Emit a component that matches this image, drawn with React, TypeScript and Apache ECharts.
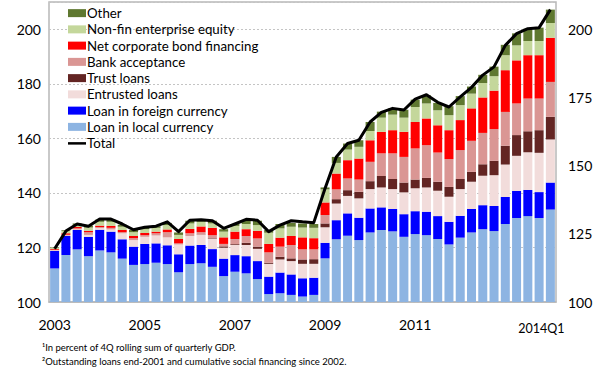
import React, { useEffect, useRef } from "react";
import * as echarts from "echarts";

// Quarterly categories, 2003Q1 – 2014Q1
const quarters = [
  "2003Q1", "2003Q2", "2003Q3", "2003Q4", "2004Q1", "2004Q2", "2004Q3", "2004Q4",
  "2005Q1", "2005Q2", "2005Q3", "2005Q4", "2006Q1", "2006Q2", "2006Q3", "2006Q4",
  "2007Q1", "2007Q2", "2007Q3", "2007Q4", "2008Q1", "2008Q2", "2008Q3", "2008Q4",
  "2009Q1", "2009Q2", "2009Q3", "2009Q4", "2010Q1", "2010Q2", "2010Q3", "2010Q4",
  "2011Q1", "2011Q2", "2011Q3", "2011Q4", "2012Q1", "2012Q2", "2012Q3", "2012Q4",
  "2013Q1", "2013Q2", "2013Q3", "2013Q4", "2014Q1",
];

// Category axis labels that are shown
const xTickLabels: Record<string, string> = {
  "2003Q1": "2003",
  "2005Q1": "2005",
  "2007Q1": "2007",
  "2009Q1": "2009",
  "2011Q1": "2011",
  "2014Q1": "2014Q1",
};

// Stacked components (percent of GDP)
const loanLocal = [112.3, 117.2, 119.3, 116.8, 118.9, 118.2, 115.9, 113.6, 113.9, 114.4, 113.9, 110.9, 113.9, 114.2, 112.9, 109.5, 111.1, 110.5, 108.4, 102.9, 103.2, 102.6, 102.0, 102.6, 116.0, 123.0, 124.3, 122.7, 125.5, 126.4, 125.9, 123.9, 124.9, 124.5, 123.1, 121.1, 123.6, 125.5, 126.7, 126.0, 128.6, 130.8, 131.5, 130.8, 133.9];
const loanForeign = [6.4, 7.0, 7.1, 7.1, 7.6, 7.6, 7.1, 6.7, 7.4, 7.1, 6.9, 6.6, 6.8, 6.7, 6.5, 6.4, 6.1, 6.3, 6.6, 6.4, 7.6, 7.5, 6.7, 6.3, 5.7, 7.0, 8.2, 8.2, 8.8, 8.3, 8.2, 8.3, 8.4, 8.6, 8.4, 8.3, 8.0, 8.6, 8.8, 9.2, 9.9, 9.9, 9.6, 9.5, 9.9];
const entrustedLoans = [0.2, 0.2, 0.2, 0.7, 0.6, 0.8, 2.2, 2.4, 2.6, 2.9, 2.9, 3.6, 3.5, 3.7, 3.8, 4.0, 3.7, 4.1, 4.5, 4.7, 4.8, 4.9, 5.3, 5.1, 5.7, 6.1, 6.4, 7.1, 7.1, 7.3, 7.3, 8.0, 8.4, 8.9, 9.3, 9.2, 9.8, 10.0, 10.8, 11.3, 11.9, 12.9, 13.8, 14.4, 15.8];
const trustLoans = [0, 0, 0, 0, 0, 0, 0, 0, 0, 0, 0, 0, 0, 0.1, 0.2, 0.5, 0.3, 0.8, 0.8, 0.4, 1.0, 1.0, 1.6, 1.7, 1.4, 1.6, 2.1, 2.4, 2.9, 4.2, 3.7, 3.6, 3.2, 3.5, 3.3, 3.6, 3.7, 3.6, 4.2, 5.3, 6.9, 7.6, 7.7, 8.3, 8.3];
const bankAcceptance = [0.2, 0.3, 0.4, 1.0, 0.4, 0.6, 0.4, 0.7, 0.6, 0.8, 1.9, 0.4, 1.0, 0.9, 1.1, 0.9, 1.9, 2.5, 3.0, 3.8, 3.7, 4.9, 3.7, 3.6, 3.1, 3.6, 4.3, 4.5, 7.1, 8.3, 9.4, 9.4, 11.4, 12.0, 10.7, 10.2, 10.6, 11.4, 11.5, 11.6, 12.4, 11.6, 12.0, 11.6, 12.8];
const corporateBonds = [0.3, 0.5, 0.5, 0.5, 0.5, 0.7, 0.8, 0.8, 0.8, 0.6, 1.0, 1.6, 1.6, 2.1, 2.7, 2.4, 2.7, 2.5, 2.8, 3.1, 3.3, 3.3, 4.4, 4.1, 4.6, 5.8, 6.7, 7.7, 7.9, 7.9, 8.5, 9.2, 9.7, 9.8, 10.0, 10.6, 11.0, 11.9, 13.0, 14.1, 15.3, 15.8, 15.9, 15.9, 16.2];
const enterpriseEquity = [0.4, 0.8, 0.8, 1.2, 1.4, 1.5, 1.2, 1.4, 1.4, 1.4, 1.6, 1.5, 2.0, 1.7, 1.6, 2.1, 2.1, 1.9, 2.1, 4.1, 3.4, 3.4, 3.6, 3.8, 4.8, 3.9, 3.9, 4.3, 3.4, 5.2, 5.7, 5.2, 5.5, 5.5, 5.5, 5.5, 5.5, 5.4, 5.3, 5.3, 5.5, 5.5, 5.2, 5.2, 5.4];
const otherFinancing = [0.2, 0.3, 0.5, 0.7, 0.8, 0.8, 0.7, 0.8, 0.6, 0.6, 0.8, 0.9, 1.0, 0.9, 1.0, 0.9, 0.7, 1.4, 1.6, 1.0, 1.6, 1.4, 1.5, 1.4, 0.7, 2.2, 2.2, 2.4, 3.3, 2.2, 2.3, 2.9, 2.7, 3.0, 2.7, 3.3, 3.3, 2.6, 3.0, 3.5, 3.8, 4.4, 4.5, 4.9, 4.9];
const totalFinancing = [119.5, 126.0, 128.6, 127.8, 130.4, 130.4, 128.6, 126.5, 127.4, 127.8, 129.4, 125.8, 130.0, 130.2, 129.8, 127.0, 128.6, 130.3, 130.0, 125.8, 128.2, 129.8, 129.4, 129.1, 141.6, 153.2, 158.1, 159.3, 166.0, 169.5, 171.0, 170.4, 174.4, 176.0, 173.2, 171.5, 175.2, 178.7, 183.2, 186.2, 194.1, 198.4, 200.2, 200.6, 207.2];

const FONT = "Lato, 'Open Sans', sans-serif";

const stacked = [
  { name: "Loan in local currency", data: loanLocal, color: "#8db4e2" },
  { name: "Loan in foreign currency", data: loanForeign, color: "#0000ff" },
  { name: "Entrusted loans", data: entrustedLoans, color: "#f2dcdb" },
  { name: "Trust loans", data: trustLoans, color: "#632523" },
  { name: "Bank acceptance", data: bankAcceptance, color: "#da9694" },
  { name: "Net corporate bond financing", data: corporateBonds, color: "#ff0000" },
  { name: "Non-fin enterprise equity", data: enterpriseEquity, color: "#c4d79b" },
  { name: "Other", data: otherFinancing, color: "#5f7830" },
];

const legendOrder = [
  "Other",
  "Non-fin enterprise equity",
  "Net corporate bond financing",
  "Bank acceptance",
  "Trust loans",
  "Entrusted loans",
  "Loan in foreign currency",
  "Loan in local currency",
  "Total",
];

// Thin horizontal bar used as the legend key of the line series
const LINE_KEY_ICON = "path://M0,0M0,3L18,3L18,5.5L0,5.5ZM18,8";

const footnotes = [
  "\u00B9In percent of 4Q rolling sum of quarterly GDP.",
  "\u00B2Outstanding loans end-2001 and cumulative social financing since 2002.",
];

export default function App() {
  const ref = useRef<HTMLDivElement>(null);

  useEffect(() => {
    if (!ref.current) return;
    const chart = echarts.init(ref.current, null, { renderer: "svg" });

    const option: any = {
      animation: false,
      backgroundColor: "#ffffff",
      textStyle: { fontFamily: FONT },
      grid: {
        left: 49,
        right: 40,
        top: 2,
        bottom: 67,
        show: true,
        borderColor: "#b8b8b8",
        borderWidth: 1.5,
        backgroundColor: "transparent",
      },
      legend: {
        orient: "vertical",
        left: 68,
        top: 5,
        padding: 0,
        itemWidth: 18,
        itemHeight: 8,
        itemGap: 0,
        data: legendOrder.map((name) =>
          name === "Total" ? { name, icon: LINE_KEY_ICON } : { name, icon: "rect" }
        ),
        textStyle: {
          fontFamily: FONT,
          fontSize: 13.3,
          color: "#000",
          lineHeight: 16.25,
          padding: [0, 0, 0, -4],
        },
      },
      xAxis: {
        type: "category",
        data: quarters,
        axisLine: { show: true, lineStyle: { color: "#b8b8b8", width: 1.5 } },
        axisTick: { show: false },
        axisLabel: {
          interval: 0,
          margin: 15,
          color: "#000",
          fontFamily: FONT,
          fontSize: 14,
          formatter: (v: string) => {
            const t = xTickLabels[v];
            if (!t) return "";
            return t.length > 4 ? "{q|" + t + "}" : t;
          },
          rich: {
            q: { fontSize: 12.5, fontFamily: FONT, color: "#000", padding: [5, 18, 0, 0] },
          },
        },
      },
      yAxis: [
        {
          type: "value",
          min: 100,
          max: 210,
          interval: 20,
          axisLine: { show: false },
          axisTick: { show: false },
          axisLabel: { color: "#000", fontFamily: FONT, fontSize: 14, margin: 8, showMaxLabel: false },
          splitLine: { show: true, lineStyle: { color: "#c4c4c4", type: [2, 2], width: 1 } },
        },
        {
          type: "value",
          min: 100,
          max: 210,
          interval: 25,
          position: "right",
          axisLine: { show: false },
          axisTick: { show: false },
          axisLabel: { color: "#000", fontFamily: FONT, fontSize: 14, margin: 12, showMaxLabel: false },
          splitLine: { show: false },
        },
      ],
      series: [
        ...stacked.map((s) => ({
          name: s.name,
          type: "bar",
          stack: "financing",
          data: s.data,
          barCategoryGap: "20%",
          itemStyle: { color: s.color },
          emphasis: { disabled: true },
        })),
        {
          name: "Total",
          type: "line",
          data: totalFinancing,
          symbol: "none",
          z: 5,
          lineStyle: { color: "#000", width: 3, join: "round" },
          itemStyle: { color: "#000" },
        },
      ],
      graphic: footnotes.map((t, i) => ({
        type: "text",
        left: 42,
        top: 342 + i * 14,
        style: { text: t, fontFamily: FONT, fontSize: 9.5, fill: "#000" },
      })),
    };

    chart.setOption(option);
    return () => chart.dispose();
  }, []);

  return (
    <div
      ref={ref}
      style={{ position: "absolute", left: 0, top: 0, width: 596, height: 369 }}
    />
  );
}
